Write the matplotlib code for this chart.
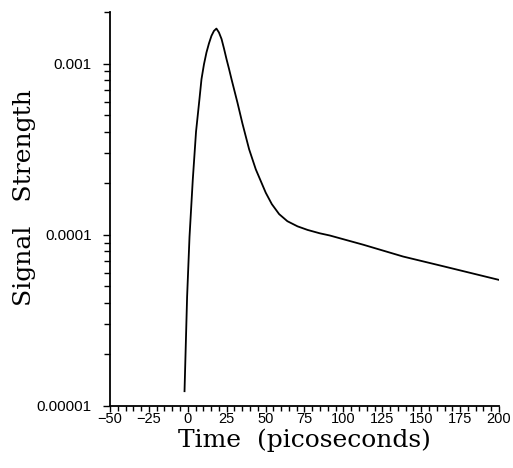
import matplotlib
matplotlib.use("Agg")
import matplotlib.pyplot as plt
from matplotlib.ticker import FixedLocator, MultipleLocator, NullFormatter

time_ps = [-2.1, -0.45, 1.1, 3.2, 5.3, 7.5, 8.8, 10.4, 12.0, 13.6, 15.2, 16.8,
           18.4, 20.0, 21.7, 23.3, 24.9, 26.5, 28.1, 31.9, 35.1, 39.4, 43.7,
           50.1, 54.0, 58.7, 64.0, 70.5, 77.0, 84.8, 91.3, 112.7, 138.4, 164.1,
           200.0]
signal = [1.22e-5, 4.32e-5, 9.7e-5, 2.09e-4, 4.0e-4, 6.2e-4, 8.1e-4, 9.9e-4,
          1.16e-3, 1.31e-3, 1.45e-3, 1.55e-3, 1.60e-3, 1.52e-3, 1.39e-3,
          1.22e-3, 1.06e-3, 9.3e-4, 8.1e-4, 5.92e-4, 4.47e-4, 3.16e-4,
          2.41e-4, 1.76e-4, 1.51e-4, 1.32e-4, 1.20e-4, 1.12e-4, 1.067e-4,
          1.02e-4, 9.9e-5, 8.75e-5, 7.46e-5, 6.55e-5, 5.45e-5]

x_ticks = [-50, -25, 0, 25, 50, 75, 100, 125, 150, 175, 200]
x_tick_labels = ["\u221250", "\u221225", "0", "25", "50", "75", "100", "125",
                 "150", "175", "200"]
y_ticks = [1e-5, 1e-4, 1e-3]
y_tick_labels = ["0.00001", "0.0001", "0.001"]

fig = plt.figure(figsize=(5.13, 4.68), dpi=100)
ax = fig.add_axes([0.2144, 0.1325, 0.7583, 0.8419])

ax.plot(time_ps, signal, color="black", linewidth=1.3)
ax.set_yscale("log")
ax.set_xlim(-50, 200)
ax.set_ylim(1e-5, 2e-3)

ax.spines["top"].set_visible(False)
ax.spines["right"].set_visible(False)
ax.spines["left"].set_linewidth(1.3)
ax.spines["bottom"].set_linewidth(1.3)

ax.xaxis.set_major_locator(FixedLocator(x_ticks))
ax.set_xticklabels(x_tick_labels, fontsize=10.5, family="Liberation Sans")
ax.xaxis.set_minor_locator(MultipleLocator(5))

minor_y = [m * 10.0 ** e for e in (-5, -4, -3) for m in range(2, 10)]
minor_y = [v for v in minor_y if v <= 2e-3]
ax.yaxis.set_major_locator(FixedLocator(y_ticks))
ax.set_yticklabels(y_tick_labels, fontsize=11, family="Liberation Sans")
ax.yaxis.set_minor_locator(FixedLocator(minor_y))
ax.yaxis.set_minor_formatter(NullFormatter())

ax.tick_params(axis="x", which="major", direction="out", length=4, width=1, pad=0)
ax.tick_params(axis="x", which="minor", direction="out", length=3.5, width=1)
ax.tick_params(axis="y", which="major", direction="out", length=5, width=1, pad=8)
ax.tick_params(axis="y", which="minor", direction="out", length=4.5, width=1)

ax.set_xlabel("Time  (picoseconds)", fontsize=18, family="DejaVu Serif", labelpad=2)
ax.set_ylabel("Signal   Strength", fontsize=18, family="DejaVu Serif")
ax.yaxis.set_label_coords(-0.19, 0.53)

fig.savefig("out.png", dpi=100)
